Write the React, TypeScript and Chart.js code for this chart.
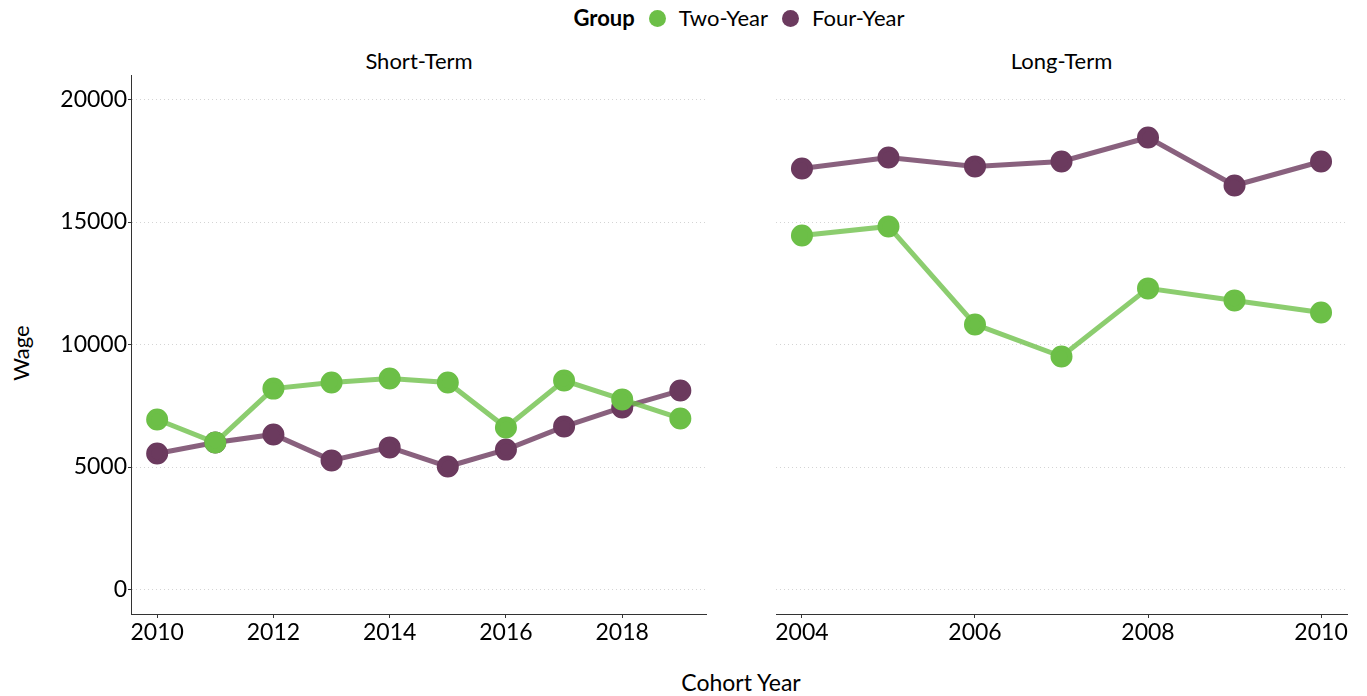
import React, { useEffect, useRef } from "react";
import { Chart, registerables } from "chart.js";

Chart.register(...registerables);

const shortYears = [2010, 2011, 2012, 2013, 2014, 2015, 2016, 2017, 2018, 2019];
const shortTwoYear = [6940, 6000, 8200, 8450, 8610, 8450, 6610, 8530, 7760, 6980];
const shortFourYear = [5550, 6000, 6330, 5270, 5800, 5020, 5710, 6650, 7430, 8120];

const longYears = [2004, 2005, 2006, 2007, 2008, 2009, 2010];
const longTwoYear = [14450, 14820, 10820, 9510, 12290, 11800, 11310];
const longFourYear = [17180, 17630, 17270, 17470, 18450, 16490, 17470];

const shortXTicks = [2010, 2012, 2014, 2016, 2018];
const longXTicks = [2004, 2006, 2008, 2010];
const yTicks = [0, 5000, 10000, 15000, 20000];

const GREEN_PT = "#6cbf47";
const GREEN_LN = "rgba(108,191,71,0.78)";
const PURPLE_PT = "#6b3a5e";
const PURPLE_LN = "rgba(107,58,94,0.8)";
const FONT = "Lato, 'Open Sans', sans-serif";

function makeConfig(
  years: number[],
  two: number[],
  four: number[],
  xTicks: number[],
  xMin: number,
  xMax: number,
  leftWidth: number,
  showY: boolean,
  padRight: number
): any {
  const ds = (vals: number[], ln: string, pt: string) => ({
    data: years.map((y, i) => ({ x: y, y: vals[i] })),
    borderColor: ln,
    backgroundColor: pt,
    pointBackgroundColor: pt,
    pointBorderColor: pt,
    borderWidth: 5,
    pointRadius: 8.5,
    pointHoverRadius: 8.5,
    tension: 0,
  });
  return {
    type: "line",
    data: {
      datasets: [ds(two, GREEN_LN, GREEN_PT), ds(four, PURPLE_LN, PURPLE_PT)],
    },
    options: {
      animation: false,
      responsive: false,
      maintainAspectRatio: false,
      layout: { padding: { top: 35, right: padRight, left: 0, bottom: 0 } },
      plugins: { legend: { display: false }, tooltip: { enabled: false } },
      scales: {
        x: {
          type: "linear",
          min: xMin,
          max: xMax,
          afterBuildTicks: (s: any) => {
            s.ticks = xTicks.map((v) => ({ value: v }));
          },
          afterFit: (s: any) => {
            s.height = 36;
          },
          grid: {
            drawOnChartArea: false,
            drawTicks: true,
            tickLength: 4,
            tickColor: "#333",
          },
          border: { display: true, color: "#333", width: 1 },
          ticks: {
            color: "#000",
            font: { family: FONT, size: 23 },
            padding: 1,
            maxRotation: 0,
            autoSkip: false,
            callback: (v: any) => String(v),
          },
        },
        y: {
          type: "linear",
          min: -1000,
          max: 21000,
          afterBuildTicks: (s: any) => {
            s.ticks = yTicks.map((v) => ({ value: v }));
          },
          afterFit: (s: any) => {
            s.width = leftWidth;
          },
          grid: {
            color: "#d4d4d4",
            lineWidth: 1,
            drawTicks: showY,
            tickLength: 3,
            tickColor: "#333",
            tickBorderDash: [],
          },
          border: { display: showY, color: "#333", width: 1, dash: [1, 3] },
          ticks: {
            display: showY,
            color: "#000",
            font: { family: FONT, size: 23 },
            padding: 1,
            callback: (v: any) => String(v),
          },
        },
      },
    },
  };
}

function Panel(props: {
  left: number;
  top: number;
  width: number;
  height: number;
  config: any;
}) {
  const ref = useRef<HTMLCanvasElement | null>(null);
  useEffect(() => {
    if (!ref.current) return;
    const chart = new Chart(ref.current, props.config);
    return () => chart.destroy();
  }, []);
  return (
    <canvas
      ref={ref}
      width={props.width}
      height={props.height}
      style={{
        position: "absolute",
        left: props.left,
        top: props.top,
        width: props.width,
        height: props.height,
      }}
    />
  );
}

export default function App() {
  const shortCfg = makeConfig(
    shortYears, shortTwoYear, shortFourYear, shortXTicks,
    2009.55, 2019.45, 131, true, 13
  );
  const longCfg = makeConfig(
    longYears, longTwoYear, longFourYear, longXTicks,
    2003.7, 2010.3, 56, false, 20
  );
  const text: React.CSSProperties = {
    position: "absolute",
    fontFamily: FONT,
    color: "#000",
    whiteSpace: "nowrap",
  };
  const dot = (c: string): React.CSSProperties => ({
    display: "inline-block",
    width: 17,
    height: 17,
    borderRadius: "50%",
    background: c,
    margin: "0 13px 0 14px",
    verticalAlign: "middle",
    position: "relative",
    top: -2,
  });
  return (
    <div
      style={{
        position: "absolute",
        left: 0,
        top: 0,
        width: 1367,
        height: 696,
        background: "#fff",
        overflow: "hidden",
      }}
    >
      <div style={{ ...text, left: 0, width: 1478, top: 4, textAlign: "center", fontSize: 22 }}>
        <span style={{ fontWeight: 700 }}>Group</span>
        <span style={dot(GREEN_PT)} />
        <span>Two-Year</span>
        <span style={dot(PURPLE_PT)} />
        <span>Four-Year</span>
      </div>
      <div style={{ ...text, left: 131, width: 576, top: 47, textAlign: "center", fontSize: 22 }}>
        Short-Term
      </div>
      <div style={{ ...text, left: 776, width: 571, top: 47, textAlign: "center", fontSize: 22 }}>
        Long-Term
      </div>
      <div
        style={{
          ...text,
          left: 20,
          top: 353,
          fontSize: 22,
          transform: "translate(-50%, -50%) rotate(-90deg)",
        }}
      >
        Wage
      </div>
      <div style={{ ...text, left: 0, width: 1482, top: 668, textAlign: "center", fontSize: 23 }}>
        Cohort Year
      </div>
      <Panel left={0} top={40} width={720} height={610} config={shortCfg} />
      <Panel left={720} top={40} width={647} height={610} config={longCfg} />
    </div>
  );
}
